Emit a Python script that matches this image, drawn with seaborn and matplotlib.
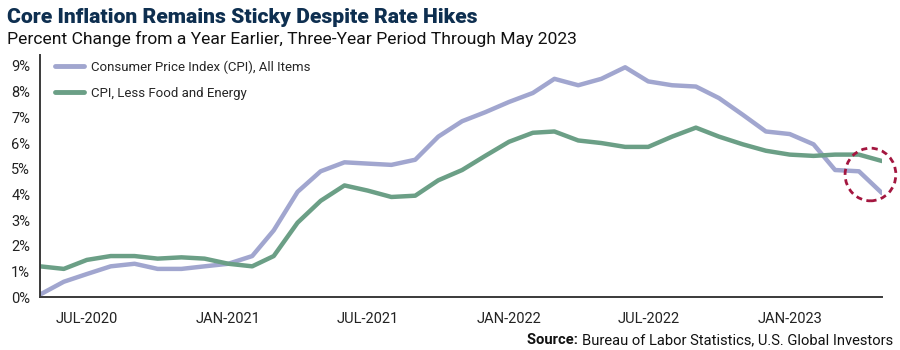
import matplotlib
matplotlib.use("Agg")
import matplotlib.pyplot as plt
from matplotlib.patches import Ellipse
import matplotlib.dates as mdates
import pandas as pd
import seaborn as sns

# data: monthly, May 2020 - May 2023
months = pd.date_range("2020-05-01", "2023-05-01", freq="MS")
cpi_all = [0.1, 0.6, 0.9, 1.2, 1.3, 1.1, 1.1, 1.2, 1.3, 1.6, 2.6, 4.1,
           4.9, 5.25, 5.2, 5.15, 5.35, 6.25, 6.85, 7.2, 7.6, 7.95, 8.5, 8.25,
           8.5, 8.95, 8.4, 8.25, 8.2, 7.75, 7.1, 6.45, 6.35, 5.95, 4.95, 4.9,
           4.05]
cpi_core = [1.2, 1.1, 1.45, 1.6, 1.6, 1.5, 1.55, 1.5, 1.3, 1.2, 1.6, 2.9,
            3.75, 4.35, 4.15, 3.9, 3.95, 4.55, 4.95, 5.5, 6.05, 6.4, 6.45, 6.1,
            6.0, 5.85, 5.85, 6.25, 6.6, 6.25, 5.95, 5.7, 5.55, 5.5, 5.55, 5.55,
            5.3]
series_names = ["Consumer Price Index (CPI), All Items", "CPI, Less Food and Energy"]
tick_months = ["2020-07-01", "2021-01-01", "2021-07-01", "2022-01-01", "2022-07-01", "2023-01-01"]

df = pd.DataFrame({"month": list(months) * 2,
                   "value": cpi_all + cpi_core,
                   "series": [series_names[0]] * len(months) + [series_names[1]] * len(months)})

sns.set_style("white")
plt.rcParams["font.family"] = ["Roboto", "DejaVu Sans"]

fig = plt.figure(figsize=(9, 3.5), dpi=100)
ax = fig.add_axes([0.0444, 0.151, 0.9356, 0.692])

palette = {series_names[0]: "#a1a6cf", series_names[1]: "#6b9f86"}
sns.lineplot(data=df, x="month", y="value", hue="series", palette=palette,
             linewidth=3.2, ax=ax)

ax.set_xlim(months[0], months[-1])
ax.set_ylim(0, 9.43)
ax.set_yticks(range(0, 10))
ax.set_yticklabels([f"{v}%" for v in range(0, 10)])
ticks = pd.to_datetime(tick_months)
ax.set_xticks(ticks)
ax.set_xticklabels([t.strftime("%b-%Y").upper() for t in ticks])
ax.set_xlabel("")
ax.set_ylabel("")

for side in ["top", "right"]:
    ax.spines[side].set_visible(False)
for side in ["left", "bottom"]:
    ax.spines[side].set_color("#3a3a3a")
    ax.spines[side].set_linewidth(1.4)
ax.tick_params(axis="both", which="major", direction="out", length=5, width=1.2,
               color="#3a3a3a", labelsize=10.5, labelcolor="#222222")
ax.tick_params(axis="x", pad=6)
ax.tick_params(axis="y", pad=2)

leg = ax.legend(loc="upper left", bbox_to_anchor=(0.012, 1.0), frameon=False,
                fontsize=9.5, handlelength=2.2, labelspacing=1.0,
                borderaxespad=0, handletextpad=0.5)
for line in leg.get_lines():
    line.set_linewidth(3.5)

# dashed circle around the latest readings
last = mdates.date2num(months[-1])
center_y = (cpi_all[-1] + cpi_core[-1]) / 2 + 0.1
circ = Ellipse((last - 15, center_y), width=66, height=2.05, fill=False,
               edgecolor="#a3163f", linestyle=(0, (2.2, 1.6)), linewidth=2,
               clip_on=False, zorder=5)
ax.add_patch(circ)

fig.text(0.008, 0.95, "Core Inflation Remains Sticky Despite Rate Hikes",
         fontsize=15.2, fontweight="black", color="#0e2f50", va="center", ha="left")
fig.text(0.008, 0.89, "Percent Change from a Year Earlier, Three-Year Period Through May 2023",
         fontsize=12.6, color="#111111", va="center", ha="left")

src = fig.text(0.992, 0.028, "Bureau of Labor Statistics, U.S. Global Investors",
               fontsize=10.6, color="#111111", ha="right", va="center")
ax.annotate("Source: ", xy=(0, 0.5), xycoords=src, ha="right", va="center",
            fontsize=10.6, fontweight="bold", color="#111111")

fig.savefig("out.png", dpi=100, facecolor="white")
